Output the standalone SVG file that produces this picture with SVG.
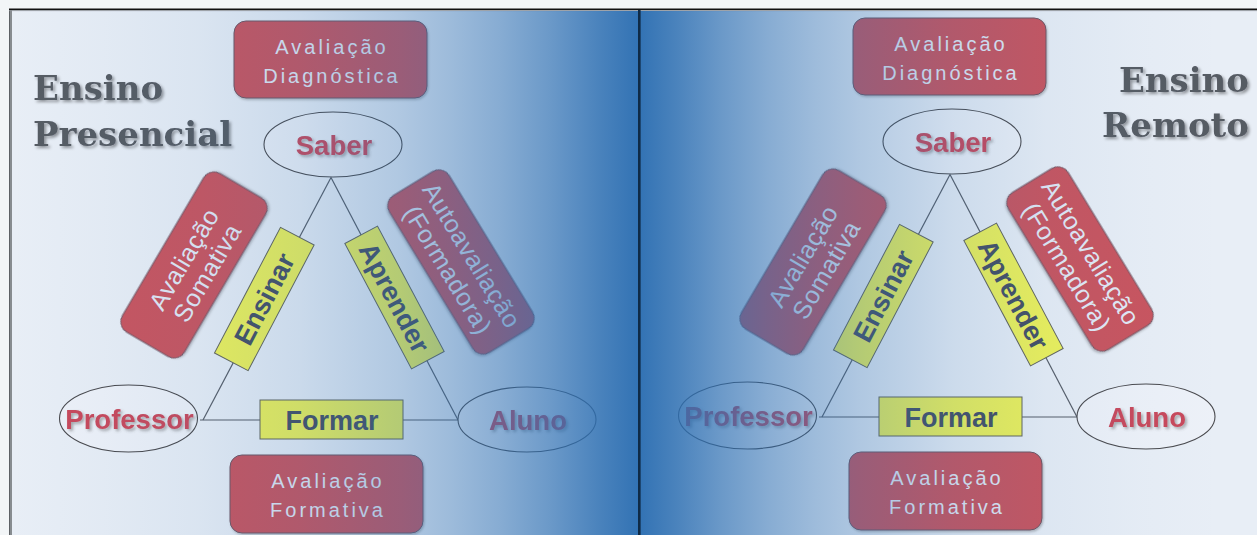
<svg xmlns="http://www.w3.org/2000/svg" width="1257" height="535" viewBox="0 0 1257 535">
  <defs>
    <style>
      .rbox { fill: #c9545f; stroke: #6e5662; stroke-width: 1; filter: url(#boxShadow); }
      .rtxt { font-family: "Liberation Sans", Arial, sans-serif; font-size: 20px; letter-spacing: 3px; fill: #e2e9f5; text-anchor: middle; }
      .vtxt { font-family: "Liberation Sans", Arial, sans-serif; font-size: 25px; letter-spacing: 0.6px; fill: #e2e9f5; text-anchor: middle; }
      .ybox { fill: #eef25a; stroke: #63645a; stroke-width: 1; }
      .ytxt { font-family: "Liberation Sans", Arial, sans-serif; font-weight: bold; font-size: 27px; fill: #465064; text-anchor: middle; }
      .ell { fill: #edf1f8; stroke: #4a4a4e; stroke-width: 1.1; }
      .etxt { font-family: "Liberation Sans", Arial, sans-serif; font-weight: bold; font-size: 27.5px; fill: #c84a5c; text-anchor: middle; filter: url(#textShadow); }
      .link { stroke: #575d67; stroke-width: 1.2; fill: none; }
      .title { font-family: "DejaVu Serif", "Liberation Serif", serif; font-weight: bold; font-size: 34px; fill: #565b64; filter: url(#titleShadow); }
    </style>
    <filter id="boxShadow" x="-10%" y="-10%" width="130%" height="130%">
      <feDropShadow dx="1" dy="1.5" stdDeviation="1" flood-color="#000" flood-opacity="0.25"/>
    </filter>
    <filter id="textShadow" x="-10%" y="-20%" width="130%" height="160%">
      <feDropShadow dx="2" dy="2" stdDeviation="1.4" flood-color="#4a4a4a" flood-opacity="0.45"/>
    </filter>
    <filter id="titleShadow" x="-10%" y="-20%" width="130%" height="160%">
      <feDropShadow dx="2" dy="2" stdDeviation="1.6" flood-color="#000" flood-opacity="0.38"/>
    </filter>
    <!-- blue wash that deepens toward the central divider -->
    <linearGradient id="fadeL" x1="0" y1="0" x2="1" y2="0">
      <stop offset="0" stop-color="#2d6fb2" stop-opacity="0"/>
      <stop offset="0.14" stop-color="#2d6fb2" stop-opacity="0.03"/>
      <stop offset="0.30" stop-color="#2d6fb2" stop-opacity="0.075"/>
      <stop offset="0.46" stop-color="#2d6fb2" stop-opacity="0.16"/>
      <stop offset="0.62" stop-color="#2d6fb2" stop-opacity="0.30"/>
      <stop offset="0.70" stop-color="#2d6fb2" stop-opacity="0.40"/>
      <stop offset="0.78" stop-color="#2d6fb2" stop-opacity="0.52"/>
      <stop offset="0.86" stop-color="#2d6fb2" stop-opacity="0.67"/>
      <stop offset="0.94" stop-color="#2d6fb2" stop-opacity="0.85"/>
      <stop offset="1" stop-color="#2d6fb2" stop-opacity="0.97"/>
    </linearGradient>
    <linearGradient id="fadeR" x1="1" y1="0" x2="0" y2="0">
      <stop offset="0" stop-color="#2d6fb2" stop-opacity="0"/>
      <stop offset="0.14" stop-color="#2d6fb2" stop-opacity="0.02"/>
      <stop offset="0.30" stop-color="#2d6fb2" stop-opacity="0.06"/>
      <stop offset="0.46" stop-color="#2d6fb2" stop-opacity="0.15"/>
      <stop offset="0.62" stop-color="#2d6fb2" stop-opacity="0.30"/>
      <stop offset="0.70" stop-color="#2d6fb2" stop-opacity="0.40"/>
      <stop offset="0.78" stop-color="#2d6fb2" stop-opacity="0.52"/>
      <stop offset="0.86" stop-color="#2d6fb2" stop-opacity="0.67"/>
      <stop offset="0.94" stop-color="#2d6fb2" stop-opacity="0.85"/>
      <stop offset="1" stop-color="#2d6fb2" stop-opacity="0.97"/>
    </linearGradient>
  </defs>

  <!-- page and panel frame -->
  <rect x="0" y="0" width="1257" height="535" fill="#f2f5f7"/>
  <rect x="12" y="10" width="1245" height="525" fill="#e8eef6"/>
  <rect x="9" y="10" width="3" height="525" fill="#878c90"/>
  <rect x="9" y="10" width="1" height="525" fill="#5d6165"/>
  <rect x="9" y="8.5" width="1248" height="1.8" fill="#111"/>
  <rect x="9" y="10.3" width="1248" height="0.8" fill="#9aa0a6"/>

  <!-- ===== left panel: Ensino Presencial ===== -->
  <g id="left-panel">
    <g id="title-presencial">
      <text class="title" x="33" y="100">Ensino</text>
      <text class="title" x="33" y="146">Presencial</text>
    </g>

    <g id="connectors-left">
      <line class="link" x1="331" y1="177.5" x2="203" y2="420"/>
      <line class="link" x1="331" y1="177.5" x2="458" y2="420"/>
      <line class="link" x1="200" y1="420" x2="459" y2="420"/>
    </g>

    <g id="diag-left">
      <rect class="rbox" x="234" y="21" width="193" height="77" rx="12"/>
      <text class="rtxt" x="332" y="54">Avaliação</text>
      <text class="rtxt" x="332" y="83">Diagnóstica</text>
    </g>
    <g id="saber-left">
      <ellipse class="ell" cx="333" cy="144.5" rx="69" ry="32.5"/>
      <text class="etxt" x="334" y="154.5">Saber</text>
    </g>
    <g id="somativa-left" transform="translate(194,265) rotate(-59.5)">
      <rect class="rbox" x="-92" y="-36" width="184" height="72" rx="12"/>
      <text class="vtxt" x="0" y="-3">Avaliação</text>
      <text class="vtxt" x="0" y="24">Somativa</text>
    </g>
    <g id="auto-left" transform="translate(461,262) rotate(58.6)">
      <rect class="rbox" x="-92" y="-35" width="184" height="70" rx="12"/>
      <text class="vtxt" x="0" y="-4">Autoavaliação</text>
      <text class="vtxt" x="0" y="24">(Formadora)</text>
    </g>
    <g id="ensinar-left" transform="translate(264.3,299) rotate(-62.3)">
      <rect class="ybox" x="-71" y="-19" width="142" height="38"/>
      <text class="ytxt" x="0" y="9.5">Ensinar</text>
    </g>
    <g id="aprender-left" transform="translate(394.5,297.5) rotate(62)">
      <rect class="ybox" x="-71" y="-18.5" width="142" height="37"/>
      <text class="ytxt" x="0" y="9.5">Aprender</text>
    </g>
    <g id="professor-left">
      <ellipse class="ell" cx="128.5" cy="418.5" rx="69" ry="33.5"/>
      <text class="etxt" x="129.5" y="428.5">Professor</text>
    </g>
    <g id="aluno-left">
      <ellipse class="ell" cx="527" cy="419.5" rx="69" ry="32.5"/>
      <text class="etxt" x="528" y="429.5">Aluno</text>
    </g>
    <g id="formar-left">
      <rect class="ybox" x="260" y="400" width="143" height="39"/>
      <text class="ytxt" x="332" y="429.5">Formar</text>
    </g>
    <g id="formativa-left">
      <rect class="rbox" x="230" y="455" width="193" height="78" rx="12"/>
      <text class="rtxt" x="328" y="488">Avaliação</text>
      <text class="rtxt" x="328" y="517">Formativa</text>
    </g>

    <rect x="12" y="11" width="626" height="524" fill="url(#fadeL)"/>
  </g>

  <!-- ===== right panel: Ensino Remoto ===== -->
  <g id="right-panel">
    <g id="title-remoto">
      <text class="title" x="1249" y="92" text-anchor="end">Ensino</text>
      <text class="title" x="1249" y="137" text-anchor="end">Remoto</text>
    </g>

    <g transform="translate(619,-3)">
      <g id="connectors-right">
        <line class="link" x1="331" y1="177.5" x2="203" y2="420"/>
        <line class="link" x1="331" y1="177.5" x2="458" y2="420"/>
        <line class="link" x1="200" y1="420" x2="459" y2="420"/>
      </g>

      <g id="diag-right">
        <rect class="rbox" x="234" y="21" width="193" height="77" rx="12"/>
        <text class="rtxt" x="332" y="54">Avaliação</text>
        <text class="rtxt" x="332" y="83">Diagnóstica</text>
      </g>
      <g id="saber-right">
        <ellipse class="ell" cx="333" cy="144.5" rx="69" ry="32.5"/>
        <text class="etxt" x="334" y="154.5">Saber</text>
      </g>
      <g id="somativa-right" transform="translate(194,265) rotate(-59.5)">
        <rect class="rbox" x="-92" y="-36" width="184" height="72" rx="12"/>
        <text class="vtxt" x="0" y="-3">Avaliação</text>
        <text class="vtxt" x="0" y="24">Somativa</text>
      </g>
      <g id="auto-right" transform="translate(461,262) rotate(58.6)">
        <rect class="rbox" x="-92" y="-35" width="184" height="70" rx="12"/>
        <text class="vtxt" x="0" y="-4">Autoavaliação</text>
        <text class="vtxt" x="0" y="24">(Formadora)</text>
      </g>
      <g id="ensinar-right" transform="translate(264.3,299) rotate(-62.3)">
        <rect class="ybox" x="-71" y="-19" width="142" height="38"/>
        <text class="ytxt" x="0" y="9.5">Ensinar</text>
      </g>
      <g id="aprender-right" transform="translate(394.5,297.5) rotate(62)">
        <rect class="ybox" x="-71" y="-18.5" width="142" height="37"/>
        <text class="ytxt" x="0" y="9.5">Aprender</text>
      </g>
      <g id="professor-right">
        <ellipse class="ell" cx="128.5" cy="418.5" rx="69" ry="33.5"/>
        <text class="etxt" x="129.5" y="428.5">Professor</text>
      </g>
      <g id="aluno-right">
        <ellipse class="ell" cx="527" cy="419.5" rx="69" ry="32.5"/>
        <text class="etxt" x="528" y="429.5">Aluno</text>
      </g>
      <g id="formar-right">
        <rect class="ybox" x="260" y="400" width="143" height="39"/>
        <text class="ytxt" x="332" y="429.5">Formar</text>
      </g>
      <g id="formativa-right">
        <rect class="rbox" x="230" y="455" width="193" height="78" rx="12"/>
        <text class="rtxt" x="328" y="488">Avaliação</text>
        <text class="rtxt" x="328" y="517">Formativa</text>
      </g>
    </g>

    <rect x="640" y="11" width="580" height="524" fill="url(#fadeR)"/>
  </g>

  <!-- central divider -->
  <rect x="638" y="10" width="2.6" height="525" fill="#0f2a45"/>
</svg>
